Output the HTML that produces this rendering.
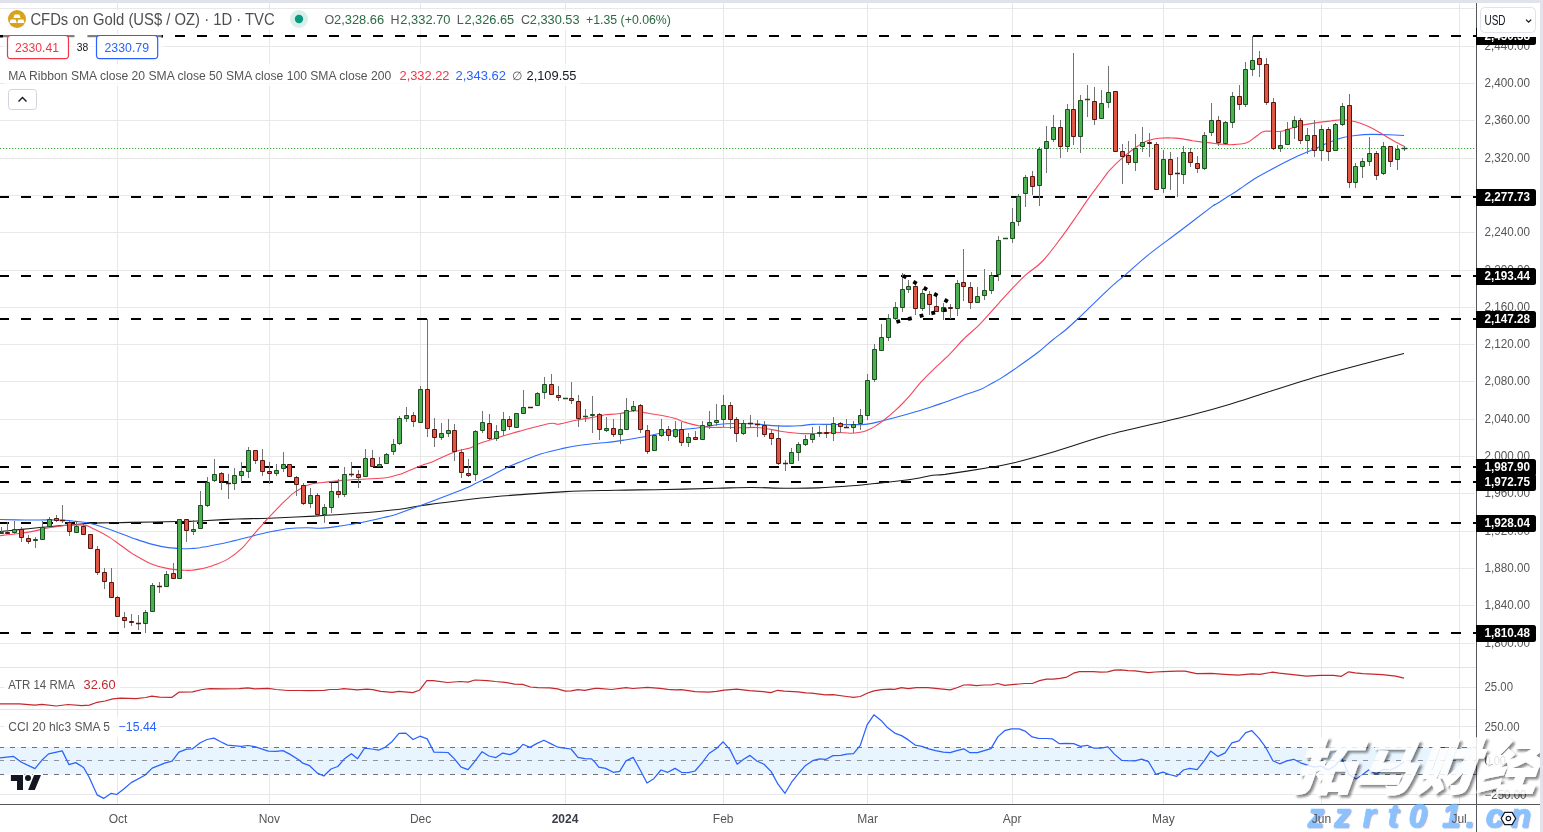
<!DOCTYPE html>
<html lang="en"><head><meta charset="utf-8"><title>CFDs on Gold (US$ / OZ) 1D TVC</title>
<style>html,body{margin:0;padding:0;background:#fff;width:1543px;height:832px;overflow:hidden}</style></head>
<body>
<svg width="1543" height="832" viewBox="0 0 1543 832" style="position:absolute;left:0;top:0;will-change:transform;font-family:'Liberation Sans',sans-serif">
<defs><clipPath id="cm"><rect x="0" y="3" width="1476" height="664"/></clipPath><clipPath id="ca"><rect x="0" y="668" width="1476" height="41"/></clipPath><clipPath id="cc"><rect x="0" y="710" width="1476" height="94"/></clipPath><filter id="ws" x="-10%" y="-10%" width="130%" height="130%"><feDropShadow dx="2.5" dy="2.5" stdDeviation="1.2" flood-color="#000" flood-opacity="0.55"/></filter><filter id="ws2" x="-5%" y="-20%" width="110%" height="150%"><feDropShadow dx="1.2" dy="1.2" stdDeviation="0.6" flood-color="#5a6fc0" flood-opacity="0.65"/></filter></defs>
<rect width="1543" height="832" fill="#fff"/>
<path d="M0 643.5H1475M0 605.5H1475M0 568.5H1475M0 531.5H1475M0 493.5H1475M0 456.5H1475M0 419.5H1475M0 381.5H1475M0 344.5H1475M0 307.5H1475M0 270.5H1475M0 232.5H1475M0 195.5H1475M0 158.5H1475M0 120.5H1475M0 83.5H1475M0 46.5H1475M0 8.5H1475M117.5 3V804M269.5 3V804M420.5 3V804M565.5 3V804M723.5 3V804M867.5 3V804M1012.5 3V804M1163.5 3V804M1321.5 3V804M1459.5 3V804M0 687.5H1476M0 726.5H1476M0 794.5H1476" stroke="#e8e8e8" stroke-width="1" fill="none" shape-rendering="crispEdges"/>
<path d="M0 667.5H1540M0 709.5H1540" stroke="#e0e3eb" stroke-width="1" fill="none" shape-rendering="crispEdges"/>
<path d="M0 760.5H1476" stroke="#e7e7e9" stroke-width="1" fill="none"/>
<rect x="0" y="747" width="1476" height="27.5" fill="#e6f3fe" opacity="0.92"/>
<path d="M-1 747.5H1476M-1 774.5H1476" stroke="#70737d" stroke-width="1.1" stroke-dasharray="5 6" fill="none"/>
<path d="M-1 760.5H1476" stroke="#8f929b" stroke-width="1.1" stroke-dasharray="5 6" fill="none"/>
<g clip-path="url(#cm)">
<path d="M-1 36H1477M-1 197H1477M-1 276H1477M-1 319H1477M-1 467H1477M-1 482H1477M-1 523H1477M-1 633H1477" stroke="#000" stroke-width="2.1" stroke-dasharray="10 12" fill="none"/>
<path d="M0 148.5H1476" stroke="#3da53d" stroke-width="1.2" stroke-dasharray="1.2 1.8" fill="none"/>
<path d="M0 531.5C3.5 531.2 14 530.1 21.1 529.4C28.1 528.7 35.8 527.9 42.1 527.3C48.4 526.7 53.4 526.4 59 525.9C64.6 525.4 71 525 75.8 524.5C80.6 524.1 83.4 523.6 87.6 523.4C91.8 523.1 96 523 101.1 522.9C106.1 522.7 113.1 522.8 117.9 522.7C122.8 522.6 119.9 522.6 130 522.4C140.1 522.2 168.3 521.7 178.3 521.5C188.3 521.4 186.4 521.5 190 521.4C193.6 521.3 197.9 521 200 520.9C202.1 520.8 196.5 521 202.7 520.7C208.9 520.4 226.2 519.5 237.3 519C248.4 518.6 256.6 518.7 269.5 518.2C282.4 517.7 300 516.9 314.4 516.1C328.8 515.3 341.6 514.5 355.9 513.3C370.2 512.2 389.3 510.4 400 509.2C410.8 507.9 406.9 507.6 420.4 505.7C434 503.9 464.3 499.8 481.1 498C498 496.1 507.5 495.7 521.6 494.6C535.6 493.5 549.6 492.3 565.4 491.6C581.1 490.8 599.1 490.6 615.9 490.2C632.8 489.9 649.6 489.9 666.5 489.5C683.3 489.2 703 488.5 717 488.2C731.1 487.9 739.5 487.5 750.7 487.5C762 487.5 773.2 488.1 784.4 488.2C795.7 488.3 806.9 488.3 818.2 487.9C829.4 487.5 841.7 486.6 851.9 485.8C862 485.1 870.8 484 878.8 483.1C886.9 482.3 893.3 481.6 900.1 480.8C906.8 479.9 914.2 478.9 919.6 478C925 477.1 928.3 475.9 932.5 475.3C936.7 474.7 936.2 475.5 945 474.4C953.7 473.2 973.7 470.1 985 468.3C996.3 466.4 1001.3 465.8 1013 463C1024.7 460.2 1039.3 456.1 1055 451.5C1070.8 446.8 1089.4 440 1107.5 435C1125.6 430 1148.9 425.2 1163.5 421.7C1178.1 418.2 1183.9 416.9 1195 414C1206.1 411.1 1218.4 407.7 1230 404.2C1241.7 400.7 1249.9 397.8 1265 393C1280.2 388.2 1303.5 380.6 1321 375.5C1338.5 370.4 1356.2 365.9 1370 362.2C1383.9 358.5 1398.3 354.9 1404 353.5" stroke="#1a1a1a" stroke-width="1.1" fill="none"/>
<path d="M0 519.5C4.2 519.6 16.8 519.9 25.3 520C33.7 520.1 43.8 519.8 50.5 519.9C57.3 520 61.5 520.2 65.7 520.4C69.9 520.7 72.2 521 75.8 521.4C79.5 521.8 83.4 521.8 87.6 522.7C91.8 523.5 96 524.9 101.1 526.5C106.1 528.1 113.1 530.6 117.9 532.4C122.8 534.1 127.2 536 130 537.1C132.8 538.2 131 537.6 134.6 538.7C138.1 539.9 145.8 542.6 151.4 544.1C157 545.6 162.6 546.8 168.2 547.6C173.8 548.4 180.9 548.6 185 548.8C189.2 548.9 190.6 548.6 193.1 548.4C195.6 548.2 197.4 548 200 547.7C202.6 547.3 203.8 547 208.5 546.2C213.1 545.3 221.3 543.8 227.7 542.3C234.1 540.9 242.1 538.7 246.9 537.5C251.7 536.3 252 536.1 256.4 535C260.7 534 267.4 532.4 273 531.3C278.5 530.2 283.8 529.1 289.5 528.5C295.3 528 302 527.9 307.5 527.8C313 527.8 317 528.5 322.7 528.1C328.5 527.8 335.4 526.7 342.1 525.8C348.8 524.8 355.9 523.7 362.8 522.3C369.7 520.9 377.4 519 383.6 517.5C389.8 515.9 387 517.5 400 512.9C413 508.3 448.6 494.9 461.4 489.9C474.1 484.9 471.1 485.6 476.5 483C481.9 480.4 488.8 477 493.8 474.4C498.9 471.8 501.7 469.8 506.8 467.4C511.8 465.1 518.3 462.6 524.1 460.3C529.9 458 534.9 455.8 541.4 453.8C547.9 451.8 556.5 449.9 563 448.4C569.5 447 574.1 446.1 580.3 445.2C586.5 444.3 595.7 443.4 600 443C604.3 442.6 602.3 443 606.3 442.5C610.3 442.1 617.7 441.1 624 440.1C630.4 439.1 638.8 437.8 644.4 436.7C650.1 435.6 653.5 434.6 658 433.7C662.6 432.7 667.1 431.7 671.7 431C676.2 430.2 680.7 429.7 685.3 429.2C689.8 428.7 694.3 428.5 698.9 427.8C703.4 427.2 707.9 426.2 712.5 425.5C717 424.8 721.6 424.1 726.1 423.8C730.6 423.4 735.2 423.5 739.7 423.5C744.2 423.5 748.8 423.5 753.3 423.8C757.8 424 761.2 424.7 766.9 425.1C772.6 425.5 781.8 426 787.3 426.1C792.8 426.2 795.9 426 800 425.7C804.1 425.5 807.1 424.6 812.1 424.4C817.1 424.2 823.8 424.4 830.2 424.4C836.5 424.5 844.1 424.7 850.3 424.6C856.5 424.6 862.3 424.7 867.3 424.1C872.4 423.6 875.6 422.5 880.4 421.3C885.2 420.2 890.3 418.7 896.2 417.2C902 415.6 909.7 413.5 915.6 411.8C921.5 410 926.8 408.2 931.7 406.7C936.6 405.1 942 403.2 945 402.2C948 401.2 946.6 401.7 950 400.4C953.4 399.1 960.7 396.3 965.6 394.5C970.6 392.8 975.5 391.6 979.7 389.8C983.9 388.1 987.2 385.9 990.6 384.1C994 382.2 996.3 381.2 1000 378.9C1003.7 376.6 1006.8 374.6 1013 370.3C1019.3 365.9 1030.9 357.8 1037.5 352.8C1044.1 347.7 1047.9 343.7 1052.6 340C1057.2 336.2 1061.3 333.5 1065.5 330C1069.7 326.5 1070.5 325.7 1077.7 318.9C1084.8 312.2 1100.7 296.5 1108.5 289.3C1116.3 282 1117.6 281.5 1124.5 275.6C1131.3 269.7 1140.8 260.9 1149.6 253.9C1158.3 246.8 1166.7 241.1 1177 233.3C1187.3 225.5 1205 211.8 1211.2 207.1C1217.5 202.4 1212.7 206.2 1214.5 205C1216.4 203.9 1219.7 201.8 1222.2 200.2C1224.8 198.6 1227.8 196.7 1230 195.3C1232.2 193.9 1234 192.7 1235.7 191.7C1237.3 190.6 1236.6 191.1 1240 188.8C1243.4 186.5 1250.2 181.5 1256.3 177.8C1262.5 174.1 1270.1 170.1 1277 166.5C1283.9 162.8 1291.5 159.1 1297.7 156.1C1303.9 153.2 1308.7 151.3 1314.2 148.9C1319.7 146.5 1325.9 143.6 1330.7 141.7C1335.5 139.8 1339 138.6 1343.1 137.5C1347.3 136.5 1350.7 136 1355.5 135.5C1360.3 134.9 1366.5 134.5 1372.1 134.4C1377.6 134.3 1383.3 134.7 1388.6 134.8C1393.9 135 1401.5 135.4 1404.1 135.5" stroke="#2e6bff" stroke-width="1.1" fill="none"/>
<path d="M0 535.7C1.4 535.6 4.9 535.2 8.4 534.8C11.9 534.4 16.8 533.8 21.1 533.2C25.3 532.6 29.5 532 33.7 531.1C37.9 530.3 42.1 529 46.3 528.2C50.5 527.4 55.5 526.8 59 526.3C62.5 525.8 63.2 525.4 67.4 525.2C71.6 525 80.3 524.6 84.2 525.1C88.2 525.5 88.2 526.4 91 527.6C93.8 528.9 98 530.8 101.1 532.5C104.2 534.1 106.7 535.6 109.5 537.4C112.3 539.2 114.5 540.8 117.9 543.2C121.4 545.6 127.2 550 130 552C132.8 553.9 131 552.9 134.6 554.9C138.1 556.9 145.8 561.6 151.4 563.9C157 566.2 162.6 567.6 168.2 568.6C173.8 569.7 180.9 570.1 185 570.3C189.2 570.6 190.5 570.3 193.1 570.1C195.6 569.9 197 569.7 200.4 568.9C203.8 568.1 208.7 567 213.3 565.4C217.8 563.8 222.9 562 227.7 559.1C232.5 556.2 237.9 552 242.1 548.1C246.3 544.1 249.4 539.4 252.9 535.4C256.4 531.3 260.5 526.7 263.3 523.6C266 520.5 266.7 519.8 269.5 516.8C272.3 513.9 277 508.8 279.9 505.9C282.7 502.9 284.2 501.5 286.8 499.2C289.3 496.8 291.4 494.3 295.1 491.9C298.8 489.5 303.4 486.4 308.9 484.7C314.4 483 322.7 482.7 328.3 481.9C333.8 481.2 336.3 480.9 342.1 480.4C347.8 480 355.4 479.6 362.8 479.2C370.2 478.7 380.1 478.5 386.3 477.7C392.5 476.8 397.2 474.9 400 474.2C402.8 473.5 399.5 474.6 403 473.2C406.4 471.8 415.7 467.7 420.7 465.7C425.8 463.7 427.6 463.7 433.3 461.4C438.9 459 448.8 453.9 454.9 451.7C461 449.4 465.7 449.4 470 448C474.3 446.5 476.1 444.7 480.8 443C485.5 441.3 491.6 439.6 498.1 437.6C504.6 435.6 511.1 433.5 519.8 431.1C528.4 428.8 543.5 424.7 550 423.5C556.5 422.4 554.4 424.7 558.7 424.2C563 423.6 569.1 421.7 576 420.3C582.9 418.9 595.2 416.9 600 416C604.8 415.1 601.6 415.2 605 414.8C608.3 414.4 615 414.2 619.9 413.5C624.9 412.9 630.8 411 634.9 410.8C639 410.7 640.1 411.8 644.4 412.6C648.7 413.3 655.8 414.4 660.8 415.3C665.8 416.3 670.3 417.1 674.4 418.3C678.5 419.5 681.4 421.2 685.3 422.4C689.1 423.6 694.1 424.7 697.5 425.5C700.9 426.2 702.7 426.6 705.7 426.9C708.6 427.3 711.8 427.5 715.2 427.5C718.6 427.5 722 427.1 726.1 427.2C730.2 427.2 735.2 427.8 739.7 427.8C744.2 427.9 749.9 427.4 753.3 427.4C756.7 427.4 757.8 427.5 760.1 427.7C762.4 427.9 763.5 428.1 766.9 428.7C770.3 429.3 776.7 430.6 780.5 431.2C784.4 431.9 786.8 432.1 790 432.5C793.2 432.9 797.5 433.3 800 433.5C802.5 433.7 801.7 433.7 805.1 433.6C808.4 433.6 815.1 433.4 820.1 433.2C825.2 433 830.2 432.4 835.2 432.4C840.2 432.4 846.1 433.2 850.3 433.2C854.5 433.2 857.5 432.8 860.3 432.3C863.2 431.8 864.8 431.4 867.3 430.3C869.9 429.3 872.7 427.8 875.4 426.1C878.1 424.4 880.3 422.9 883.6 420.3C887 417.7 892.1 413.4 895.4 410.4C898.7 407.4 901.1 405 903.5 402.5C905.9 400 906.9 398.8 910 395.3C913 391.8 917.5 385.9 921.9 381.2C926.2 376.6 931.2 371.7 935.9 367.2C940.6 362.6 945.5 358.5 950 353.9C954.5 349.3 958.5 344.2 963.2 339.5C967.8 334.9 973.3 330.7 977.9 326.2C982.5 321.6 987.2 316.1 990.8 312.2C994.3 308.4 995.8 306.7 999 303.1C1002.2 299.5 1005.6 295.5 1010 290.8C1014.4 286.1 1020.3 279.8 1025.7 274.9C1031.1 270 1036.6 267.4 1042.2 261.5C1047.9 255.6 1053.9 247.4 1059.7 239.7C1065.5 232 1073.1 221 1077.1 215.3C1081.1 209.6 1081.2 209 1083.6 205.6C1085.9 202.2 1089 197.9 1091 195.2C1093 192.4 1093.7 191.5 1095.5 189.2C1097.2 186.8 1099.5 183.8 1101.5 181C1103.4 178.3 1106 174.8 1107.4 172.9C1108.8 171 1108 171.8 1110 169.8C1112 167.7 1115.8 163.8 1119.3 160.6C1122.8 157.5 1127.6 153.4 1131.2 150.7C1134.8 147.9 1138.1 145.6 1141.1 143.9C1144.1 142.2 1146.1 141.3 1149 140.3C1152 139.4 1155.5 138.6 1159 138.2C1162.4 137.8 1166.2 137.8 1169.9 137.9C1173.5 137.9 1177 138.1 1180.8 138.6C1184.6 139.1 1189.1 140.2 1192.7 140.8C1196.3 141.3 1199.6 141.7 1202.6 142.1C1205.6 142.4 1208.5 142.6 1210.6 142.9C1212.6 143.1 1213.3 143.3 1215 143.5C1216.7 143.7 1217.8 143.9 1220.5 144.1C1223.1 144.3 1226.5 144.8 1230.8 144.7C1235 144.5 1241.7 144.5 1246 143.1C1250.3 141.7 1253.2 138.3 1256.3 136.3C1259.4 134.3 1260.5 132.2 1264.6 131.3C1268.7 130.5 1275.6 132.2 1281.1 131.3C1286.6 130.5 1292.2 127.5 1297.7 126.2C1303.2 124.8 1308.7 123.9 1314.2 123.1C1319.7 122.2 1326.2 121.5 1330.7 121C1335.2 120.5 1338 119.9 1341.1 119.8C1344.2 119.7 1346.2 119.9 1349.3 120.5C1352.4 121 1355.9 121.8 1359.7 123.1C1363.4 124.4 1367.9 126.2 1372.1 128.2C1376.2 130.3 1380.7 133.2 1384.5 135.5C1388.2 137.7 1391.3 139.6 1394.8 141.5C1398.2 143.4 1403.4 145.9 1405.1 146.8" stroke="#f5475b" stroke-width="1.1" fill="none"/>
<path d="M1.5 527V534M7.5 522V534M14.5 521V534M21.5 527V542M28.5 535V544M35.5 537V548M42.5 521V540M49.5 517V527M56.5 515V522M62.5 505V523M69.5 521V536M76.5 522V533M83.5 524V535M90.5 534V549M97.5 546V575M104.5 568V589M111.5 568V598M117.5 596V617M124.5 612V628M131.5 614V626M138.5 615V630M145.5 610V633M152.5 583V612M159.5 582V593M166.5 571V587M173.5 563V579M179.5 519V579M186.5 519V542M193.5 520V535M200.5 491V529M207.5 477V507M214.5 459V482M221.5 472V490M228.5 474V499M234.5 468V490M241.5 462V482M248.5 447V478M255.5 450V464M262.5 449V476M269.5 462V484M276.5 464V476M283.5 452V472M289.5 464V477M296.5 476V496M303.5 483V505M310.5 488V508M317.5 493V517M324.5 504V523M331.5 483V513M338.5 479V498M344.5 467V497M351.5 462V477M358.5 470V488M365.5 449V477M372.5 450V467M379.5 457V467M386.5 453V464M393.5 439V455M399.5 416V445M406.5 407V422M413.5 412V427M420.5 386V423M427.5 319V437M434.5 418V447M441.5 423V440M448.5 419V437M454.5 424V461M461.5 449V478M468.5 459V477M475.5 430V481M482.5 411V433M489.5 414V440M496.5 425V441M503.5 412V436M509.5 416V430M516.5 413V428M523.5 390V414M530.5 407V408M537.5 392V406M544.5 377V399M551.5 374V395M558.5 386V401M565.5 398V399M571.5 382V404M578.5 395V427M585.5 409V422M592.5 396V433M599.5 413V440M606.5 417V432M613.5 419V437M620.5 413V444M626.5 398V430M633.5 401V412M640.5 404V433M647.5 425V454M654.5 435V451M661.5 419V437M668.5 426V441M675.5 421V438M681.5 422V446M688.5 433V447M695.5 431V440M702.5 421V440M709.5 411V429M716.5 404V426M723.5 395V427M730.5 402V429M736.5 417V442M743.5 420V435M750.5 415V427M757.5 420V437M764.5 421V437M771.5 430V445M778.5 425V465M785.5 460V471M791.5 448V464M798.5 442V461M805.5 435V446M812.5 427V443M819.5 426V437M826.5 424V438M833.5 417V441M840.5 422V433M846.5 419V428M853.5 421V433M860.5 409V430M867.5 374V420M874.5 344V382M881.5 324V351M888.5 314V341M895.5 302V320M902.5 273V312M908.5 280V293M915.5 285V315M922.5 289V311M929.5 291V315M936.5 294V312M943.5 303V320M950.5 304V319M957.5 280V316M963.5 249V301M970.5 282V309M977.5 287V303M984.5 269V300M991.5 272V294M998.5 236V281M1005.5 238V239M1012.5 208V243M1018.5 194V226M1025.5 175V207M1032.5 171V195M1039.5 147V206M1046.5 126V173M1053.5 115V142M1060.5 120V158M1067.5 104V152M1073.5 53V145M1080.5 95V153M1087.5 85V117M1094.5 87V125M1101.5 90V119M1108.5 66V108M1115.5 91V152M1122.5 144V184M1128.5 141V165M1135.5 134V171M1142.5 127V152M1149.5 133V157M1156.5 142V190M1163.5 150V193M1170.5 152V190M1177.5 157V197M1183.5 146V184M1190.5 148V167M1197.5 156V173M1204.5 132V170M1211.5 103V136M1218.5 116V146M1225.5 121V144M1232.5 92V128M1239.5 85V110M1245.5 62V107M1252.5 36V76M1259.5 51V77M1266.5 58V105M1273.5 98V150M1280.5 132V152M1287.5 122V145M1294.5 116V139M1300.5 118V144M1307.5 128V154M1314.5 120V157M1321.5 125V161M1328.5 127V161M1335.5 123V151M1342.5 103V126M1349.5 94V188M1355.5 163V188M1362.5 158V178M1369.5 137V166M1376.5 151V180M1383.5 142V175M1390.5 146V167M1397.5 145V170M1404.5 146V151" stroke="#737376" stroke-width="1" fill="none"/>
<path d="M-0.5 532.5h4V533.5h-4ZM12.5 529.5h4V532.5h-4ZM33.5 539.5h4V540.5h-4ZM40.5 527.5h4V539.5h-4ZM47.5 519.5h4V526.5h-4ZM74.5 526.5h4V532.5h-4ZM143.5 612.5h4V623.5h-4ZM150.5 585.5h4V611.5h-4ZM164.5 574.5h4V586.5h-4ZM177.5 519.5h4V578.5h-4ZM191.5 529.5h4V531.5h-4ZM198.5 505.5h4V528.5h-4ZM205.5 482.5h4V505.5h-4ZM212.5 474.5h4V480.5h-4ZM232.5 475.5h4V483.5h-4ZM239.5 471.5h4V475.5h-4ZM246.5 450.5h4V471.5h-4ZM274.5 470.5h4V473.5h-4ZM281.5 464.5h4V468.5h-4ZM308.5 495.5h4V503.5h-4ZM322.5 507.5h4V514.5h-4ZM329.5 491.5h4V507.5h-4ZM342.5 474.5h4V494.5h-4ZM363.5 458.5h4V476.5h-4ZM377.5 464.5h4V466.5h-4ZM384.5 454.5h4V463.5h-4ZM391.5 444.5h4V451.5h-4ZM397.5 418.5h4V443.5h-4ZM404.5 415.5h4V418.5h-4ZM418.5 389.5h4V422.5h-4ZM439.5 433.5h4V437.5h-4ZM446.5 430.5h4V433.5h-4ZM473.5 431.5h4V474.5h-4ZM480.5 422.5h4V430.5h-4ZM494.5 431.5h4V438.5h-4ZM501.5 419.5h4V430.5h-4ZM514.5 413.5h4V427.5h-4ZM521.5 407.5h4V413.5h-4ZM535.5 393.5h4V405.5h-4ZM542.5 384.5h4V392.5h-4ZM590.5 414.5h4V415.5h-4ZM604.5 428.5h4V430.5h-4ZM618.5 429.5h4V434.5h-4ZM624.5 410.5h4V429.5h-4ZM631.5 406.5h4V410.5h-4ZM652.5 435.5h4V450.5h-4ZM659.5 429.5h4V435.5h-4ZM673.5 429.5h4V436.5h-4ZM686.5 437.5h4V442.5h-4ZM700.5 425.5h4V439.5h-4ZM707.5 422.5h4V425.5h-4ZM714.5 420.5h4V422.5h-4ZM721.5 405.5h4V419.5h-4ZM741.5 423.5h4V433.5h-4ZM789.5 452.5h4V463.5h-4ZM796.5 444.5h4V452.5h-4ZM803.5 439.5h4V444.5h-4ZM810.5 434.5h4V439.5h-4ZM817.5 432.5h4V433.5h-4ZM831.5 423.5h4V433.5h-4ZM851.5 424.5h4V427.5h-4ZM858.5 415.5h4V423.5h-4ZM865.5 380.5h4V415.5h-4ZM872.5 349.5h4V379.5h-4ZM879.5 337.5h4V350.5h-4ZM886.5 318.5h4V337.5h-4ZM893.5 307.5h4V318.5h-4ZM900.5 289.5h4V307.5h-4ZM906.5 286.5h4V289.5h-4ZM920.5 293.5h4V308.5h-4ZM941.5 307.5h4V311.5h-4ZM955.5 283.5h4V308.5h-4ZM975.5 296.5h4V302.5h-4ZM982.5 290.5h4V295.5h-4ZM989.5 275.5h4V290.5h-4ZM996.5 240.5h4V274.5h-4ZM1010.5 222.5h4V238.5h-4ZM1016.5 196.5h4V221.5h-4ZM1023.5 177.5h4V193.5h-4ZM1037.5 149.5h4V185.5h-4ZM1044.5 141.5h4V148.5h-4ZM1051.5 127.5h4V139.5h-4ZM1065.5 109.5h4V146.5h-4ZM1078.5 100.5h4V136.5h-4ZM1099.5 103.5h4V118.5h-4ZM1106.5 92.5h4V102.5h-4ZM1133.5 148.5h4V162.5h-4ZM1140.5 142.5h4V146.5h-4ZM1161.5 159.5h4V188.5h-4ZM1181.5 152.5h4V174.5h-4ZM1202.5 135.5h4V168.5h-4ZM1209.5 120.5h4V132.5h-4ZM1223.5 122.5h4V143.5h-4ZM1230.5 96.5h4V122.5h-4ZM1243.5 69.5h4V104.5h-4ZM1250.5 60.5h4V69.5h-4ZM1278.5 145.5h4V148.5h-4ZM1285.5 129.5h4V144.5h-4ZM1292.5 120.5h4V127.5h-4ZM1305.5 135.5h4V140.5h-4ZM1319.5 129.5h4V150.5h-4ZM1333.5 124.5h4V150.5h-4ZM1340.5 106.5h4V124.5h-4ZM1353.5 166.5h4V182.5h-4ZM1360.5 161.5h4V166.5h-4ZM1367.5 153.5h4V161.5h-4ZM1381.5 146.5h4V173.5h-4ZM1395.5 149.5h4V159.5h-4Z" fill="#4caf50" stroke="#1d4d22" stroke-width="1" stroke-linejoin="miter"/>
<path d="M5.5 532.5h4V533.5h-4ZM19.5 529.5h4V537.5h-4ZM26.5 538.5h4V541.5h-4ZM54.5 518.5h4V520.5h-4ZM67.5 522.5h4V531.5h-4ZM81.5 526.5h4V534.5h-4ZM88.5 534.5h4V548.5h-4ZM95.5 549.5h4V572.5h-4ZM102.5 572.5h4V581.5h-4ZM109.5 582.5h4V597.5h-4ZM115.5 597.5h4V616.5h-4ZM122.5 617.5h4V620.5h-4ZM129.5 621.5h4V622.5h-4ZM171.5 573.5h4V578.5h-4ZM184.5 519.5h4V530.5h-4ZM219.5 473.5h4V481.5h-4ZM253.5 450.5h4V460.5h-4ZM260.5 460.5h4V471.5h-4ZM267.5 471.5h4V473.5h-4ZM287.5 464.5h4V476.5h-4ZM294.5 477.5h4V484.5h-4ZM301.5 485.5h4V503.5h-4ZM315.5 495.5h4V514.5h-4ZM336.5 491.5h4V494.5h-4ZM356.5 474.5h4V477.5h-4ZM370.5 458.5h4V466.5h-4ZM411.5 415.5h4V421.5h-4ZM425.5 389.5h4V428.5h-4ZM432.5 429.5h4V437.5h-4ZM452.5 430.5h4V451.5h-4ZM459.5 452.5h4V472.5h-4ZM466.5 473.5h4V475.5h-4ZM487.5 423.5h4V438.5h-4ZM507.5 419.5h4V426.5h-4ZM549.5 384.5h4V394.5h-4ZM556.5 395.5h4V397.5h-4ZM569.5 398.5h4V400.5h-4ZM576.5 401.5h4V418.5h-4ZM597.5 414.5h4V429.5h-4ZM611.5 428.5h4V434.5h-4ZM638.5 405.5h4V429.5h-4ZM645.5 430.5h4V451.5h-4ZM666.5 429.5h4V435.5h-4ZM679.5 429.5h4V442.5h-4ZM693.5 437.5h4V439.5h-4ZM728.5 405.5h4V419.5h-4ZM734.5 419.5h4V433.5h-4ZM762.5 425.5h4V434.5h-4ZM769.5 433.5h4V438.5h-4ZM776.5 438.5h4V463.5h-4ZM824.5 432.5h4V433.5h-4ZM838.5 423.5h4V426.5h-4ZM913.5 286.5h4V308.5h-4ZM927.5 294.5h4V304.5h-4ZM934.5 306.5h4V311.5h-4ZM948.5 307.5h4V308.5h-4ZM961.5 282.5h4V286.5h-4ZM968.5 287.5h4V302.5h-4ZM1030.5 176.5h4V186.5h-4ZM1058.5 127.5h4V146.5h-4ZM1071.5 109.5h4V136.5h-4ZM1092.5 101.5h4V119.5h-4ZM1113.5 91.5h4V151.5h-4ZM1120.5 151.5h4V156.5h-4ZM1126.5 155.5h4V162.5h-4ZM1147.5 142.5h4V143.5h-4ZM1154.5 144.5h4V189.5h-4ZM1168.5 159.5h4V174.5h-4ZM1188.5 152.5h4V162.5h-4ZM1195.5 163.5h4V168.5h-4ZM1216.5 120.5h4V142.5h-4ZM1237.5 96.5h4V104.5h-4ZM1257.5 58.5h4V64.5h-4ZM1264.5 64.5h4V102.5h-4ZM1271.5 102.5h4V148.5h-4ZM1298.5 120.5h4V140.5h-4ZM1312.5 135.5h4V150.5h-4ZM1326.5 129.5h4V151.5h-4ZM1347.5 105.5h4V182.5h-4ZM1374.5 153.5h4V175.5h-4ZM1388.5 146.5h4V161.5h-4Z" fill="#e05644" stroke="#5a140e" stroke-width="1" stroke-linejoin="miter"/>
<path d="M563 398.5h5M583 416.5h5M1003 238.5h5M1085 99.5h5M1402 148.5h5" stroke="#1d4d22" stroke-width="1.4" fill="none"/>
<path d="M60 520.5h5M136 623.5h5M157 586.5h5M226 483.5h5M349 474.5h5M528 407.5h5M748 423.5h5M755 424.5h5M783 463.5h5M844 427.5h5M1175 173.5h5" stroke="#5a140e" stroke-width="1.4" fill="none"/>
<path d="M903 275.7L954.6 305.6" stroke="#000" stroke-width="3.8" stroke-dasharray="3.8 8.2" fill="none"/>
<path d="M896.4 321.9L954.6 307.6" stroke="#000" stroke-width="3.8" stroke-dasharray="3.8 8.2" fill="none"/>
</g>
<g clip-path="url(#ca)"><path d="M0 703.9L19.4 703.9L35 705.2L41.8 704.3L56.4 706L68.1 704.5L81.7 705.6L89.4 705.1L97.2 702.3L105 701L112.8 698.8L120.6 698.2L136.1 698.6L145.8 697.5L151.7 696.1L159.4 697.1L172.1 697.3L178.9 692.2L192.5 691.8L202.2 689.5L210 688.7L223.6 688.9L239.2 688.7L247.9 687.9L254.7 688.9L268.3 688.3L276.1 689.5L287.8 690.5L300 690.5L308.6 690.7L324.2 690.3L330 689.5L337.8 689.5L343.6 688.7L357.2 689.9L366.9 689.1L372.8 689.7L380.6 691.4L392.2 692.4L399 691.4L412.6 692.6L419.4 690.3L426.8 680.6L433.1 680.6L447.6 682.5L460.3 681.5L468.1 682.1L474.9 680L487.5 680.6L495.3 681.5L505 682.3L514.7 684.1L522.5 684.4L530.3 687L538 687.7L549.7 687.9L557.5 688.9L565.3 691.2L571.1 690.9L577.9 689.7L584.7 690.3L595 688.3L598.7 688.3L611.4 689.5L626 687.6L632.8 688.5L647.4 687.4L660 688.3L667.8 689.3L675.6 689.9L681.4 689.7L695 691.6L708.6 692.2L716.4 691.4L724.2 690.1L736.8 689.1L749.4 690.7L763.1 691.6L770.8 692.6L777.6 690.3L784.4 691.1L798 691.8L805.8 692.8L811.7 693.2L825.3 694.9L833 694.6L846.7 696.5L853.5 697.3L860.3 696.5L867.1 693.2L873.9 690.9L881.7 689.7L890 689.1L894.7 689.3L901.5 687.7L908.3 688.7L916.1 687.7L927.8 687.7L935.6 688.3L950.1 689.9L956.9 687.7L963.7 685L969.6 684.8L976.4 685.6L984.2 685L991 685L997.8 683.5L1004.6 685.4L1011.4 684.6L1025 683.5L1032.8 683.3L1039.6 680.6L1046.4 679.2L1053.2 679.2L1060 678.4L1066.8 677.1L1073.6 673.2L1079.4 671.6L1093 671.6L1100.8 672.2L1107.6 671.8L1114.4 670.2L1121.2 669.9L1128 670.6L1134.9 670.8L1148.5 672.6L1155.3 672L1163 671.6L1176.7 671.2L1185 671.2L1196.5 673.7L1211.1 673.4L1224.7 674.3L1238.3 675.1L1251.9 673.9L1259.7 674.3L1272.4 672.2L1279.2 673.2L1292.8 674.7L1306.4 676.1L1320 675.3L1333.6 675.3L1341.4 676.3L1348.8 671.8L1355 672.8L1362.8 673.6L1382.2 674.7L1395.8 676.1L1404 678.2" stroke="#c4282d" stroke-width="1.2" fill="none" stroke-linejoin="round"/></g>
<g clip-path="url(#cc)"><path d="M0 757.9L13.6 756.4L21.4 762.2L35 768.6L41.8 760.3L48.6 753.9L62.2 750.9L69 764.6L75.8 762.6L83.6 767.5L89.4 777.8L97.2 794.9L103.6 798.4L111.2 793.3L116.7 794.5L124.4 788.5L131.2 782.6L144.9 775.2L152.2 768.1L165.3 762.8L172.1 761.2L178.9 752.1L186.7 749.2L192.5 748.8L200.3 742.8L207.1 739.5L213.9 738.1L220.7 741.8L227.5 745.1L241.1 746.3L247.9 745.5L254.7 746.7L268.3 751.1L276.1 751.3L282.9 750.6L289.7 754.1L299.4 760.3L302.8 763.2L309.6 765.7L317.4 773.1L323.8 776L331 769L337.8 766.5L344.6 758.7L351.4 753.7L357.6 758.7L364.6 748.2L371.8 749L378.6 750.2L385.4 747.1L392.2 741.4L399 733.4L405.8 733.1L413 739.5L420 736.2L427.2 738.9L434 752.1L448 752.5L454.4 758.9L461.2 767.1L468.1 769.6L474.9 761.2L482.1 751.7L488.9 756L495.9 757.6L502.7 753.1L509.9 754.6L516.1 751.9L522.9 744.3L529.9 747.4L537.1 743.4L543.9 740.2L550.7 743.6L557.9 747.2L564.3 748.2L571.1 749L577.9 757.4L584.7 758.7L591.5 758.9L595 762.2L598.7 767.1L605.6 768.4L613.3 772.3L619.7 771.4L626 760.9L633.2 757.4L640.2 770L647 783L653.8 778.7L661 770L667.8 772.3L675 768.4L681.4 772.3L688.2 772.7L695 771L701.8 763.2L709 753.5L716.4 748.6L723.2 741.8L730 749.6L737.2 764.2L743.6 759.3L750 755.4L757.2 761.2L764 764.2L771.2 771.6L778 784.2L785 793.3L792.2 781.3L799 772.9L804.9 766.1L812.6 760.7L819.4 758.9L826.2 759.3L833 755.6L840.8 755.4L846.7 754.1L853.5 753.7L860.3 745.3L867.1 724.9L873.9 714.8L881.1 720.4L887.5 727.6L894.7 733.1L901.5 735.6L908.3 739.9L915.1 745.1L921.9 746.3L928.7 748.8L935.6 750.6L943.3 752.1L950.1 752.7L956.9 750.6L963.7 748.8L970 752.7L977.4 752.7L984.2 750.6L991 748.6L997.8 736.9L1004.6 730.7L1011.4 728.8L1019.2 728.8L1025 731.1L1032.2 736.9L1038.6 738.3L1046.4 738.5L1052.6 738.9L1059.4 743.7L1066.8 743.4L1073.6 743.7L1080.4 746.3L1087.2 745.3L1094 748.2L1100.8 748.2L1108 746.9L1114.4 754.1L1121.6 760.3L1128 760.7L1134.9 760.9L1141.7 759.1L1148.5 761.6L1155.9 774.3L1163 772.1L1169.3 774.5L1176.7 776.4L1183.5 770L1189.7 768.4L1197.1 769.6L1204.3 760.7L1210.7 751.1L1217.9 756.4L1225.1 752.9L1231.9 742.8L1238.9 740.8L1245.7 732.7L1251.9 730.7L1258.7 737.9L1265.6 747.2L1272.9 760.7L1279.7 763.8L1286.9 760.9L1293.7 759.3L1300.6 762.8L1307.4 765.1L1314.2 767.1L1321 766.1L1328.2 770L1335 765.7L1341.8 758.3L1348.8 774.3L1356 779.1L1362.8 774.5L1368.6 770L1376.4 774.3L1383.2 769.4L1390 770L1396.8 767.1L1404 761.8" stroke="#2962ff" stroke-width="1.25" fill="none" stroke-linejoin="round"/></g>
<rect x="1477" y="3" width="63" height="829" fill="#fff"/>
<path d="M1476.5 3V832M0 804.5H1540" stroke="#55575c" stroke-width="1" fill="none" shape-rendering="crispEdges"/>
<g font-size="12" fill="#555558">
<text x="1484.5" y="646.7" textLength="45.5" lengthAdjust="spacingAndGlyphs">1,800.00</text>
<text x="1484.5" y="608.7" textLength="45.5" lengthAdjust="spacingAndGlyphs">1,840.00</text>
<text x="1484.5" y="571.7" textLength="45.5" lengthAdjust="spacingAndGlyphs">1,880.00</text>
<text x="1484.5" y="534.7" textLength="45.5" lengthAdjust="spacingAndGlyphs">1,920.00</text>
<text x="1484.5" y="496.7" textLength="45.5" lengthAdjust="spacingAndGlyphs">1,960.00</text>
<text x="1484.5" y="459.7" textLength="45.5" lengthAdjust="spacingAndGlyphs">2,000.00</text>
<text x="1484.5" y="422.7" textLength="45.5" lengthAdjust="spacingAndGlyphs">2,040.00</text>
<text x="1484.5" y="384.7" textLength="45.5" lengthAdjust="spacingAndGlyphs">2,080.00</text>
<text x="1484.5" y="347.7" textLength="45.5" lengthAdjust="spacingAndGlyphs">2,120.00</text>
<text x="1484.5" y="310.7" textLength="45.5" lengthAdjust="spacingAndGlyphs">2,160.00</text>
<text x="1484.5" y="273.7" textLength="45.5" lengthAdjust="spacingAndGlyphs">2,200.00</text>
<text x="1484.5" y="235.7" textLength="45.5" lengthAdjust="spacingAndGlyphs">2,240.00</text>
<text x="1484.5" y="198.7" textLength="45.5" lengthAdjust="spacingAndGlyphs">2,280.00</text>
<text x="1484.5" y="161.7" textLength="45.5" lengthAdjust="spacingAndGlyphs">2,320.00</text>
<text x="1484.5" y="123.7" textLength="45.5" lengthAdjust="spacingAndGlyphs">2,360.00</text>
<text x="1484.5" y="86.7" textLength="45.5" lengthAdjust="spacingAndGlyphs">2,400.00</text>
<text x="1484.5" y="49.7" textLength="45.5" lengthAdjust="spacingAndGlyphs">2,440.00</text>
<text x="1484.5" y="691" textLength="28.5" lengthAdjust="spacingAndGlyphs">25.00</text>
<text x="1484.5" y="731" textLength="35" lengthAdjust="spacingAndGlyphs">250.00</text>
<text x="1484.5" y="765" textLength="21.5" lengthAdjust="spacingAndGlyphs">0.00</text>
<text x="1484.5" y="798.7" textLength="42" lengthAdjust="spacingAndGlyphs">−250.00</text>
</g>
<path d="M1476 28h57.5a2.5 2.5 0 0 1 2.5 2.5v12a2.5 2.5 0 0 1 -2.5 2.5h-57.5z" fill="#000"/>
<text x="1484.5" y="40" font-size="12" font-weight="700" fill="#fff" textLength="45.5" lengthAdjust="spacingAndGlyphs">2,450.38</text>
<path d="M1476 189h57.5a2.5 2.5 0 0 1 2.5 2.5v12a2.5 2.5 0 0 1 -2.5 2.5h-57.5z" fill="#000"/>
<text x="1484.5" y="201" font-size="12" font-weight="700" fill="#fff" textLength="45.5" lengthAdjust="spacingAndGlyphs">2,277.73</text>
<path d="M1476 268h57.5a2.5 2.5 0 0 1 2.5 2.5v12a2.5 2.5 0 0 1 -2.5 2.5h-57.5z" fill="#000"/>
<text x="1484.5" y="280" font-size="12" font-weight="700" fill="#fff" textLength="45.5" lengthAdjust="spacingAndGlyphs">2,193.44</text>
<path d="M1476 311h57.5a2.5 2.5 0 0 1 2.5 2.5v12a2.5 2.5 0 0 1 -2.5 2.5h-57.5z" fill="#000"/>
<text x="1484.5" y="323" font-size="12" font-weight="700" fill="#fff" textLength="45.5" lengthAdjust="spacingAndGlyphs">2,147.28</text>
<path d="M1476 459h57.5a2.5 2.5 0 0 1 2.5 2.5v12a2.5 2.5 0 0 1 -2.5 2.5h-57.5z" fill="#000"/>
<text x="1484.5" y="471" font-size="12" font-weight="700" fill="#fff" textLength="45.5" lengthAdjust="spacingAndGlyphs">1,987.90</text>
<path d="M1476 474h57.5a2.5 2.5 0 0 1 2.5 2.5v12a2.5 2.5 0 0 1 -2.5 2.5h-57.5z" fill="#000"/>
<text x="1484.5" y="486" font-size="12" font-weight="700" fill="#fff" textLength="45.5" lengthAdjust="spacingAndGlyphs">1,972.75</text>
<path d="M1476 515h57.5a2.5 2.5 0 0 1 2.5 2.5v12a2.5 2.5 0 0 1 -2.5 2.5h-57.5z" fill="#000"/>
<text x="1484.5" y="527" font-size="12" font-weight="700" fill="#fff" textLength="45.5" lengthAdjust="spacingAndGlyphs">1,928.04</text>
<path d="M1476 625h57.5a2.5 2.5 0 0 1 2.5 2.5v12a2.5 2.5 0 0 1 -2.5 2.5h-57.5z" fill="#000"/>
<text x="1484.5" y="637" font-size="12" font-weight="700" fill="#fff" textLength="45.5" lengthAdjust="spacingAndGlyphs">1,810.48</text>
<rect x="1477" y="3" width="63" height="34" fill="#fff"/>
<rect x="1480.5" y="7.5" width="55" height="25" rx="4" fill="#fff" stroke="#e0e3eb"/>
<text x="1484.5" y="25" font-size="14" fill="#131722" textLength="21" lengthAdjust="spacingAndGlyphs">USD</text>
<path d="M1526 19.6l2.6 2.6l2.6 -2.6" stroke="#131722" stroke-width="1.3" fill="none"/>
<g filter="url(#ws2)" opacity="0.82"><text y="826.5" x="1307.5 1334 1362.5 1387.5 1408.5 1442 1465.5 1485.5 1510.5" font-size="33" font-weight="700" font-style="italic" fill="#6fb5ff" stroke="#6fb5ff" stroke-width="0.7">zzrt01.cn</text></g>
<g font-size="12" fill="#555558" text-anchor="middle">
<text x="118" y="822.5">Oct</text>
<text x="269.3" y="822.5">Nov</text>
<text x="420.6" y="822.5">Dec</text>
<text x="565" y="822.5" font-weight="700" fill="#3a3d47">2024</text>
<text x="723.2" y="822.5">Feb</text>
<text x="867.6" y="822.5">Mar</text>
<text x="1012.1" y="822.5">Apr</text>
<text x="1163.4" y="822.5">May</text>
<text x="1321.5" y="822.5">Jun</text>
<text x="1459.1" y="822.5">Jul</text>
</g>
<g transform="translate(1508.4,818.5)" stroke="#131722" stroke-width="1.2" fill="#fff"><path d="M-3.7 -6.1h7.4l3.6 6.1l-3.6 6.1h-7.4l-3.6 -6.1z"/><circle r="2.2"/></g>
<rect x="4" y="10" width="670" height="20" fill="#fff" opacity="0.8"/>
<rect x="3" y="34" width="161" height="4.5" fill="#fff"/>
<rect x="3" y="38" width="161" height="23" fill="#fff" opacity="0.55"/>
<path d="M0 36.2H3M161.3 36.2H163" stroke="#000" stroke-width="2.4" fill="none"/><path d="M3 36.2H74.5M87.4 36.2H161.3" stroke="#808080" stroke-width="2.2" fill="none"/>
<rect x="4" y="64" width="576" height="22" fill="#fff" opacity="0.82"/>
<circle cx="17" cy="19" r="9" fill="#d9a21b"/>
<path d="M14.6 14.6h4.8l1.2 3.4h-7.2zM10.6 19.6h5l1.1 3.4h-7.2zM18.4 19.6h5l1.1 3.4h-7.2z" fill="#fff"/>
<text x="30.4" y="24.6" font-size="16" fill="#4f4f52" textLength="244.3" lengthAdjust="spacingAndGlyphs">CFDs on Gold (US$ / OZ) · 1D · TVC</text>
<circle cx="299" cy="19" r="9" fill="#d8efea"/><circle cx="299" cy="19" r="4.2" fill="#089981"/>
<text x="324.6" y="23.6" font-size="12.5" fill="#555558">O</text>
<text x="334" y="23.6" font-size="12.5" fill="#2b6a43" textLength="50.2" lengthAdjust="spacingAndGlyphs">2,328.66</text>
<text x="390.6" y="23.6" font-size="12.5" fill="#555558">H</text>
<text x="400.3" y="23.6" font-size="12.5" fill="#2b6a43" textLength="50.2" lengthAdjust="spacingAndGlyphs">2,332.70</text>
<text x="456.7" y="23.6" font-size="12.5" fill="#555558">L</text>
<text x="464.4" y="23.6" font-size="12.5" fill="#2b6a43" textLength="49.8" lengthAdjust="spacingAndGlyphs">2,326.65</text>
<text x="521" y="23.6" font-size="12.5" fill="#555558">C</text>
<text x="529.8" y="23.6" font-size="12.5" fill="#2b6a43" textLength="49.8" lengthAdjust="spacingAndGlyphs">2,330.53</text>
<text x="586" y="23.6" font-size="12.5" fill="#2b6a43" textLength="84.9" lengthAdjust="spacingAndGlyphs">+1.35 (+0.06%)</text>
<rect x="7.5" y="35.5" width="61" height="23.2" rx="3.5" fill="#fff" stroke="#f23645" stroke-width="1.2"/>
<text x="15" y="51.5" font-size="13" fill="#f23645" textLength="44" lengthAdjust="spacingAndGlyphs">2330.41</text>
<text x="76.8" y="50.5" font-size="11" fill="#131722" textLength="11.5" lengthAdjust="spacingAndGlyphs">38</text>
<rect x="96.5" y="35.5" width="61.2" height="23.2" rx="3.5" fill="#fff" stroke="#2962ff" stroke-width="1.2"/>
<text x="104.5" y="51.5" font-size="13" fill="#2962ff" textLength="44.5" lengthAdjust="spacingAndGlyphs">2330.79</text>
<text x="8.2" y="79.5" font-size="12" fill="#555558" textLength="383" lengthAdjust="spacingAndGlyphs">MA Ribbon SMA close 20 SMA close 50 SMA close 100 SMA close 200</text>
<text x="399.5" y="79.5" font-size="12.5" fill="#f23645" textLength="50" lengthAdjust="spacingAndGlyphs">2,332.22</text>
<text x="455.5" y="79.5" font-size="12.5" fill="#2962ff" textLength="50.5" lengthAdjust="spacingAndGlyphs">2,343.62</text>
<text x="512" y="79.5" font-size="12" fill="#555558">∅</text>
<text x="526.5" y="79.5" font-size="12.5" fill="#131722" textLength="50" lengthAdjust="spacingAndGlyphs">2,109.55</text>
<rect x="8.5" y="89.5" width="28" height="20" rx="3" fill="#fff" stroke="#d1d4dc"/>
<path d="M18.5 101.5l4 -4l4 4" stroke="#131722" stroke-width="1.4" fill="none"/>
<rect x="4" y="675" width="116" height="20" fill="#fff" opacity="0.8"/>
<rect x="4" y="717" width="156" height="20" fill="#fff" opacity="0.8"/>
<text x="8.2" y="689.3" font-size="12" fill="#555558" textLength="66.7" lengthAdjust="spacingAndGlyphs">ATR 14 RMA</text>
<text x="83.6" y="689.3" font-size="12.5" fill="#c4282d" textLength="32" lengthAdjust="spacingAndGlyphs">32.60</text>
<text x="8.2" y="731.3" font-size="12" fill="#555558" textLength="101.7" lengthAdjust="spacingAndGlyphs">CCI 20 hlc3 SMA 5</text>
<text x="118.6" y="731.3" font-size="12.5" fill="#2962ff" textLength="38" lengthAdjust="spacingAndGlyphs">−15.44</text>
<g fill="#fff" stroke="#fff" stroke-width="3" stroke-linejoin="round"><path d="M10.9 775h12.1v14.9h-6v-8.8h-6.1z"/><circle cx="28" cy="777.9" r="3"/><path d="M34.1 775h6.9l-6.2 14.9h-6.7z"/></g><g fill="#131722"><path d="M10.9 775h12.1v14.9h-6v-8.8h-6.1z"/><circle cx="28" cy="777.9" r="3"/><path d="M34.1 775h6.9l-6.2 14.9h-6.7z"/></g>
<g filter="url(#ws)" opacity="0.84"><g transform="translate(0 795) skewX(-20) translate(0 -795)"><text y="789" x="1290 1351 1412 1473" font-family="'Liberation Sans','Noto Sans CJK SC',sans-serif" font-size="60" font-weight="900" fill="#fff" stroke="#fff" stroke-width="1.2">拓马财经</text></g></g>
<rect x="0" y="0" width="1543" height="3" fill="#e0e3eb"/><rect x="1540" y="0" width="3" height="832" fill="#e0e3eb"/>
</svg>
</body></html>
